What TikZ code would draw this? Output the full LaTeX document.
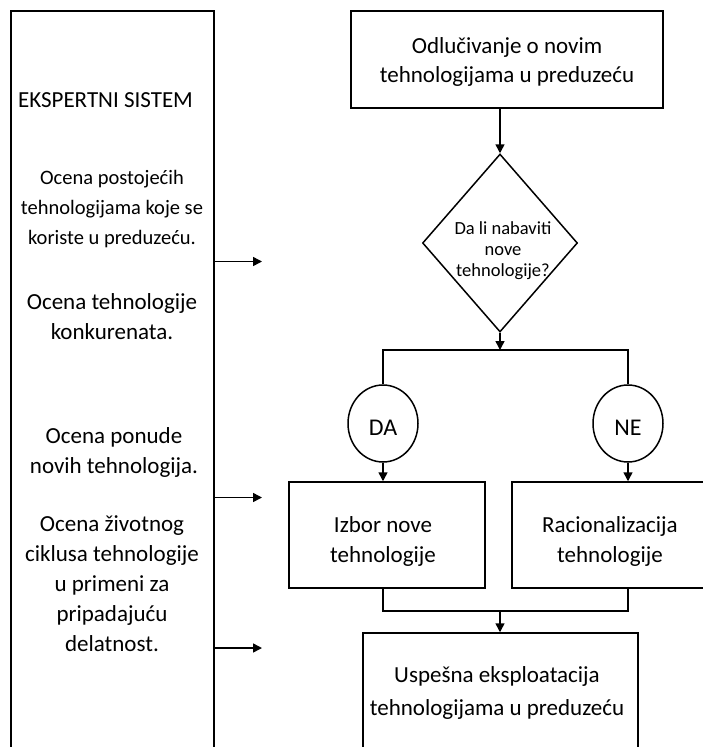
\documentclass[tikz,border=0pt]{standalone}
\usepackage{fontspec}
\setmainfont{Carlito}
\usetikzlibrary{shapes.geometric,arrows.meta}
\begin{document}
\begin{tikzpicture}[x=1pt,y=-1pt,line width=1.5pt,
  >={Triangle[length=9pt,width=9pt]},
  box/.style={draw,rectangle,inner sep=0pt},
  btxt/.style={align=center,inner sep=0pt,font=\fontsize{23}{30}\selectfont},
  ltxt/.style={align=center,inner sep=0pt,font=\fontsize{23}{30}\selectfont},
  oval/.style={draw,ellipse,inner sep=0pt,minimum width=70pt,minimum height=77pt}]
\useasboundingbox (0,0) rectangle (702,747);
% left expert system column
\node[box,minimum width=203pt,minimum height=749pt] (es) at (112.5,385.5) {};
\node[ltxt] (t0) at (105.5,100) {EKSPERTNI SISTEM};
\node[ltxt,font=\fontsize{20.5}{30}\selectfont] (t1) at (112,209.5) {Ocena postojećih\\tehnologijama koje se\\koriste u preduzeću.};
\node[ltxt] (t2) at (112,316.5) {Ocena tehnologije\\konkurenata.};
\node[ltxt] (t3) at (114,452) {Ocena ponude\\novih tehnologija.};
\node[ltxt] (t4) at (112,584) {Ocena životnog\\ciklusa tehnologije\\u primeni za\\pripadajuću\\delatnost.};
\coordinate (a1) at (262,261.5);
\coordinate (a2) at (262,497.5);
\coordinate (a3) at (262,648);
\draw[->] (es.east |- a1) -- (a1);
\draw[->] (es.east |- a2) -- (a2);
\draw[->] (es.east |- a3) -- (a3);
% flow
\node[box,minimum width=312pt,minimum height=97pt] (top) at (507,59.5) {};
\node[btxt,font=\fontsize{23}{29.5}\selectfont] (topt) at (507,62) {Odlučivanje o novim\\tehnologijama u preduzeću};
\node[draw,diamond,inner sep=0pt,minimum width=155pt,minimum height=178pt] (d) at (500,243) {};
\node[align=center,inner sep=0pt,font=\fontsize{18.5}{21}\selectfont] (dt) at (503,251) {Da li nabaviti\\nove\\tehnologije?};
\coordinate (j1) at (500,350);
\node[oval] (da) at (383,423.5) {};
\node[btxt,font=\fontsize{24}{26}\selectfont] (dat) at (383,428) {DA};
\node[oval] (ne) at (628,423.5) {};
\node[btxt,font=\fontsize{24}{26}\selectfont] (net) at (628,428) {NE};
\node[box,minimum width=196pt,minimum height=106pt] (izb) at (387,535) {};
\node[btxt] (izbt) at (383,541) {Izbor nove\\tehnologije};
\node[box,minimum width=196pt,minimum height=106pt] (rac) at (610,535) {};
\node[btxt] (ract) at (610,541) {Racionalizacija\\tehnologije};
\coordinate (j2) at (500,611);
\node[box,minimum width=275pt,minimum height=116pt] (fin) at (500.5,691) {};
\node[btxt,font=\fontsize{23}{33}\selectfont] (fint) at (497,693) {Uspešna eksploatacija\\tehnologijama u preduzeću};
\draw[->] (d.north |- top.south) -- (d.north);
\draw[->] (d.south) -- (j1);
\draw (da.north) |- (j1) -| (ne.north);
\draw[->] (da.south) -- (da.south |- izb.north);
\draw[->] (ne.south) -- (ne.south |- rac.north);
\draw (izb.south -| da.south) |- (j2) -| (rac.south -| ne.south);
\draw[->] (j2) -- (j2 |- fin.north);
\end{tikzpicture}
\end{document}
